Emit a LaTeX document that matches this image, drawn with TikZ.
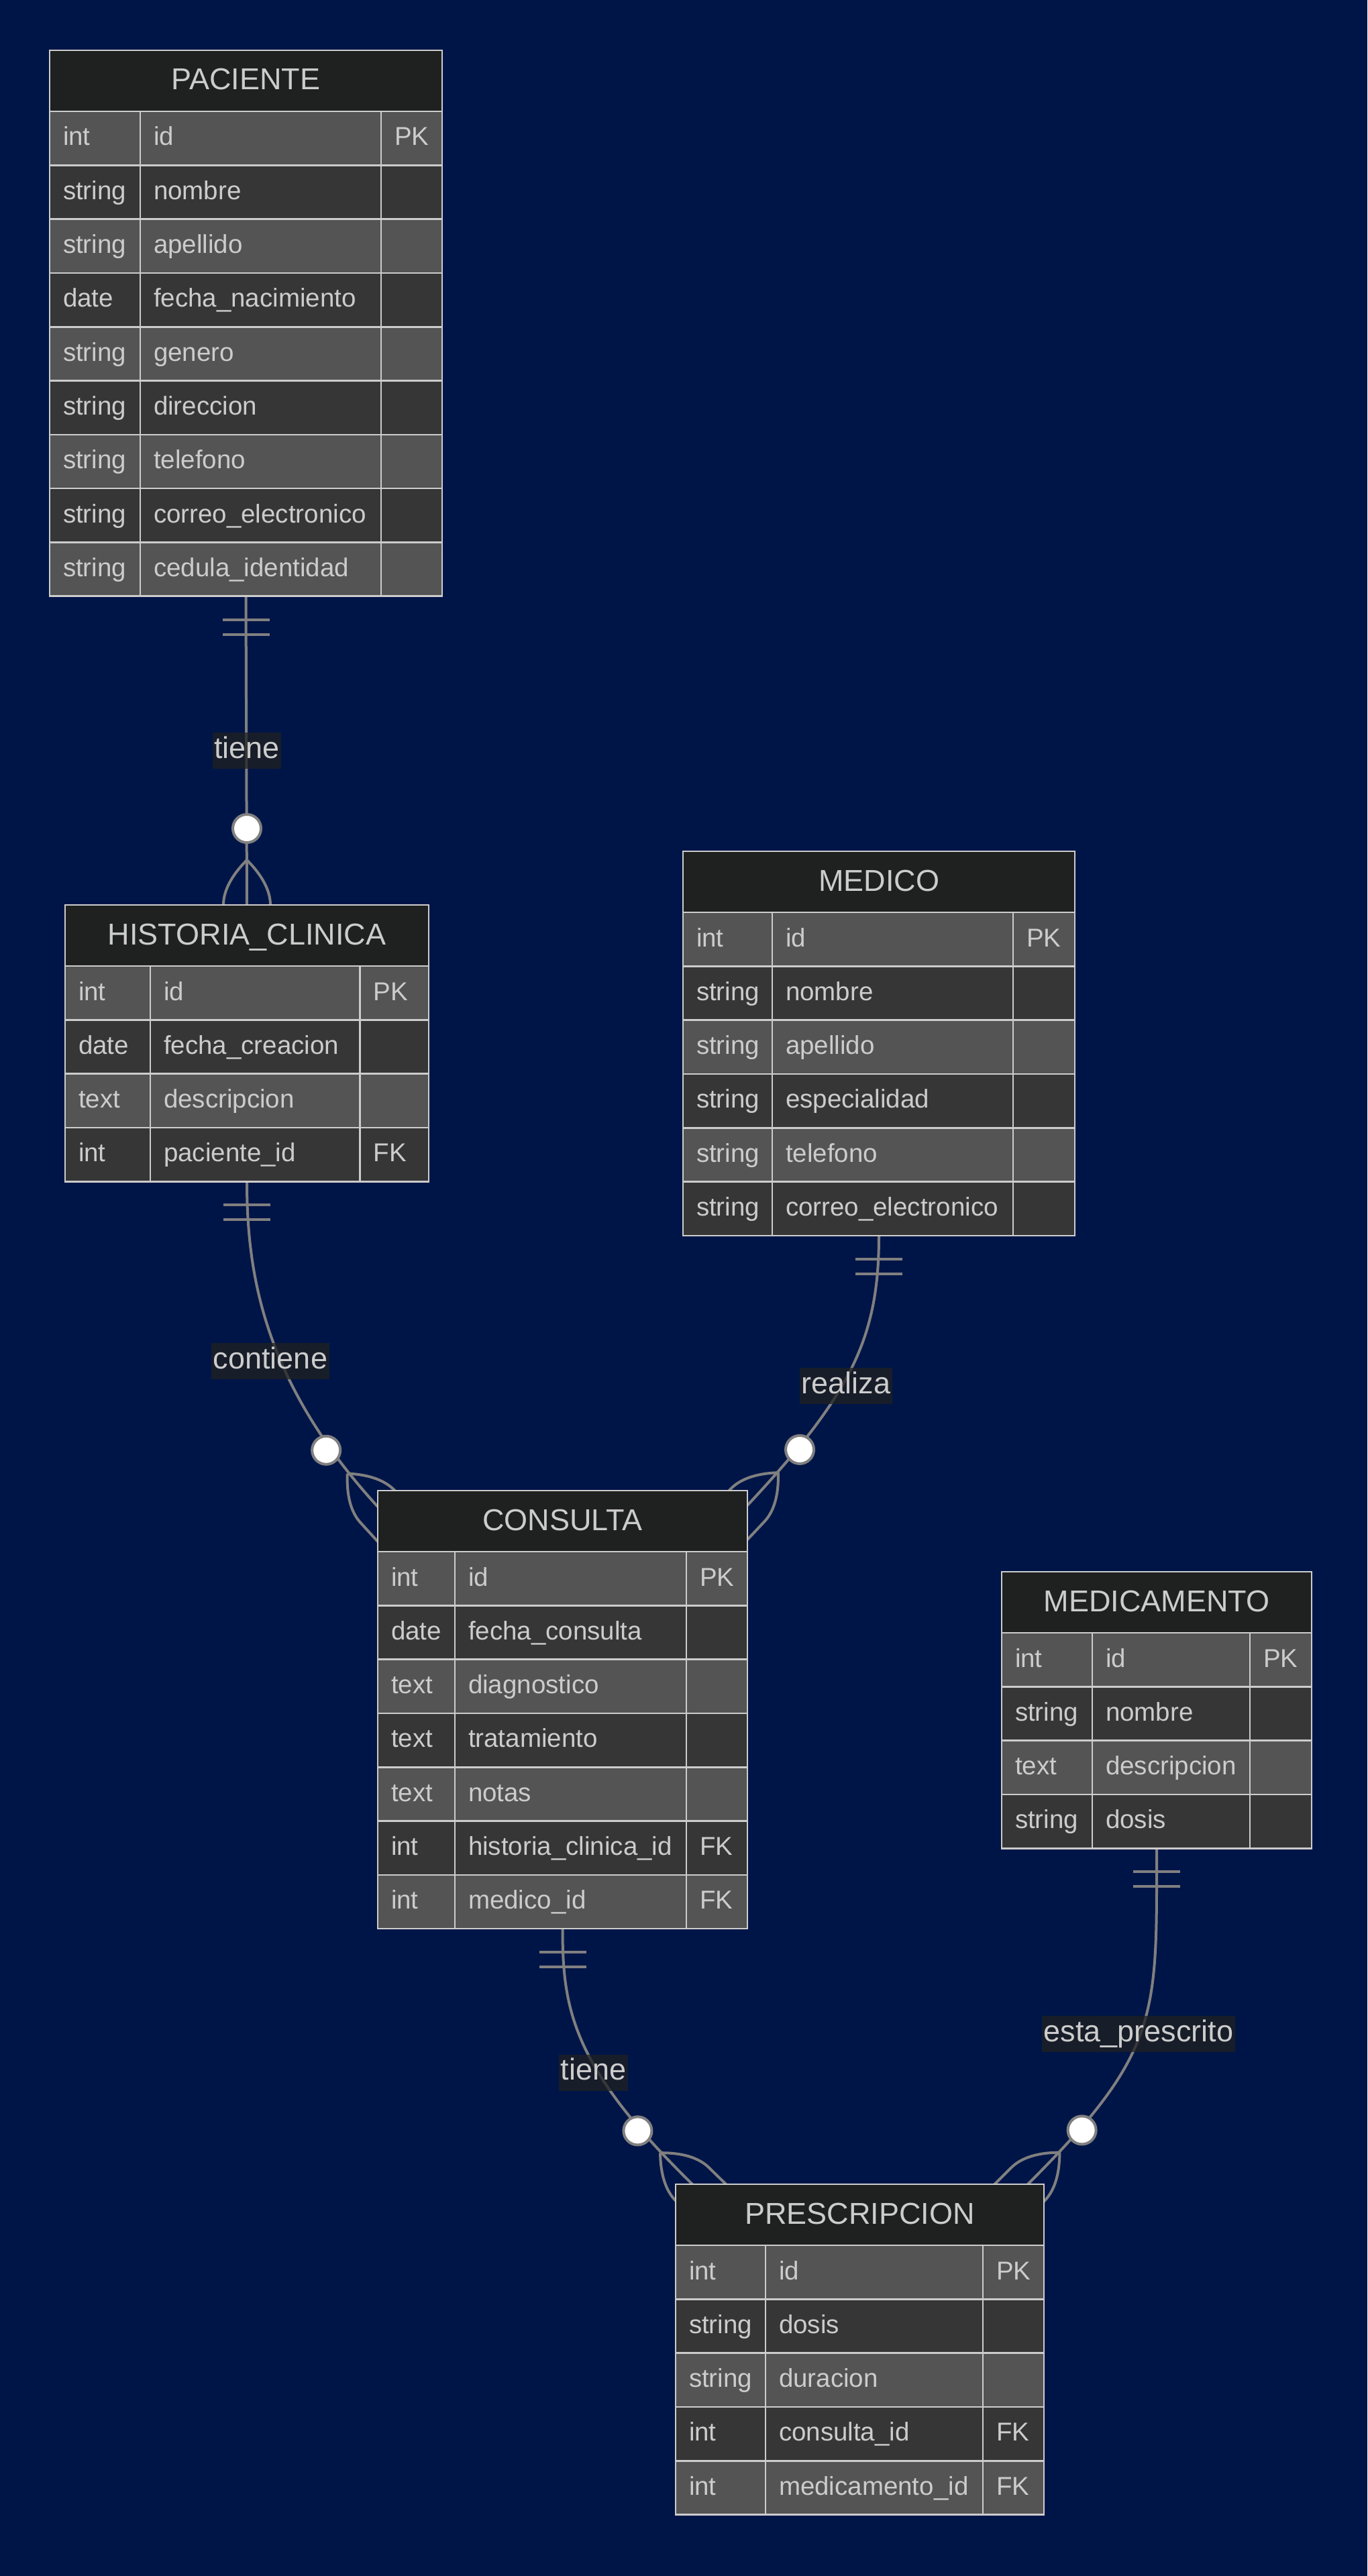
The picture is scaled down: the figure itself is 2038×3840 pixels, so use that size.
\documentclass[tikz,border=0pt]{standalone}
\usepackage{fontspec}
\setmainfont{Liberation Sans}
\usetikzlibrary{calc,positioning}

\definecolor{canvasblue}{RGB}{0,21,71}
\definecolor{titlebg}{RGB}{31,32,32}
\definecolor{rowodd}{RGB}{84,84,84}
\definecolor{roweven}{RGB}{54,54,54}
\definecolor{lgray}{RGB}{204,204,204}
\definecolor{linegray}{RGB}{128,128,128}

\pgfdeclarelayer{bg}
\pgfdeclarelayer{edges}
\pgfsetlayers{bg,edges,main}

\tikzset{
  enttitle/.style={draw=lgray, line width=2.6pt, fill=titlebg, text=lgray, inner sep=0pt, outer sep=0pt,
    minimum height=91pt, text height=59pt, text depth=32pt, font=\fontsize{45}{54}\selectfont},
  cell/.style={draw=lgray, line width=2.6pt, text=lgray, inner sep=0pt, outer sep=0pt,
    text height=51pt, text depth=29.3pt, font=\fontsize{38.5}{46}\selectfont},
  relline/.style={draw=linegray, line width=4pt},
  optcircle/.style={circle, draw=linegray, line width=4pt, fill=white, minimum size=42pt, inner sep=0pt},
  rellabel/.style={fill=titlebg, fill opacity=0.75, text opacity=1, text=lgray, inner xsep=2.5pt,
    inner ysep=0pt, text height=38pt, text depth=16pt, font=\fontsize{45}{54}\selectfont}
}

% entity: name, x, y, column widths, title, rows type/name/key
\newcommand{\ertable}[8]{%
  \node[enttitle, minimum width=#4+#5+#6, anchor=north west] (#1) at (#2,#3) {#7};
  \foreach \ty/\na/\ke [count=\i] in {#8}{%
    \ifodd\i\def\rowcol{rowodd}\else\def\rowcol{roweven}\fi
    \node[cell, fill=\rowcol, anchor=north west] (#1-\i-a)
      at ($(#1.south west)+(0,{(\i-1)*80.3})$) {\hbox to #4pt{\hskip20pt\ty\hfil}};
    \node[cell, fill=\rowcol, anchor=north west] (#1-\i-b) at (#1-\i-a.north east) {\hbox to #5pt{\hskip20pt\na\hfil}};
    \node[cell, fill=\rowcol, anchor=north west] (#1-\i-c) at (#1-\i-b.north east) {\hbox to #6pt{\hskip20pt\ke\hfil}};
  }%
}
% zero or many end: point, angle of the line
\newcommand{\zeromany}[2]{%
  \begin{scope}[shift={(#1)}, rotate=#2]
    \draw[relline] (-67,0) .. controls (-44,23) and (-21,35) .. (0,35) -- (40,35);
    \draw[relline] (-67,0) .. controls (-44,-23) and (-21,-35) .. (0,-35) -- (40,-35);
    \node[optcircle] at (-114,0) {};
  \end{scope}}
% exactly one start
\newcommand{\onlyone}[1]{%
  \draw[relline] ($(#1)+(-35,35)$) -- ++(70,0) ($(#1)+(-35,57)$) -- ++(70,0);}

\begin{document}
\begin{tikzpicture}[x=1pt,y=-1pt]
\begin{pgfonlayer}{bg}
  \fill[canvasblue] (0,0) rectangle (2038,3840);
\end{pgfonlayer}
\useasboundingbox (0,0) rectangle (2038,3840);

\ertable{pac}{74}{75}{135}{359}{91}{PACIENTE}{int/id/PK, string/nombre/{}, string/apellido/{},
  date/fecha\_nacimiento/{}, string/genero/{}, string/direccion/{}, string/telefono/{},
  string/correo\_electronico/{}, string/cedula\_identidad/{}}
\ertable{hc}{97}{1349}{127}{312.5}{102.5}{HISTORIA\_CLINICA}{int/id/PK, date/fecha\_creacion/{},
  text/descripcion/{}, int/paciente\_id/FK}
\ertable{med}{1018}{1269}{133}{359}{92}{MEDICO}{int/id/PK, string/nombre/{}, string/apellido/{},
  string/especialidad/{}, string/telefono/{}, string/correo\_electronico/{}}
\ertable{cons}{563}{2222}{115}{345}{91}{CONSULTA}{int/id/PK, date/fecha\_consulta/{},
  text/diagnostico/{}, text/tratamiento/{}, text/notas/{}, int/historia\_clinica\_id/FK, int/medico\_id/FK}
\ertable{medi}{1493}{2343}{135}{235}{92}{MEDICAMENTO}{int/id/PK, string/nombre/{},
  text/descripcion/{}, string/dosis/{}}
\ertable{pres}{1007}{3256}{134}{324}{91}{PRESCRIPCION}{int/id/PK, string/dosis/{},
  string/duracion/{}, int/consulta\_id/FK, int/medicamento\_id/FK}

\coordinate (s-pac) at (pac |- pac-9-b.south);
\coordinate (s-hc) at (hc |- hc-4-b.south);
\coordinate (s-med) at (med |- med-6-b.south);
\coordinate (s-cons) at (cons |- cons-7-b.south);
\coordinate (s-medi) at (medi |- medi-4-b.south);
\coordinate (e-hc) at (hc.north);
\coordinate (e-cons-l) at ([yshift=-24pt]cons.north west);
\coordinate (e-cons-r) at ([yshift=-22pt]cons.north east);
\coordinate (e-pres-l) at ([xshift=25pt]pres.north west);
\coordinate (e-pres-r) at ([xshift=-24pt]pres.north east);

\begin{pgfonlayer}{edges}
  \draw[relline] (s-pac) -- (e-hc);
  \draw[relline] (s-hc) .. controls +(0,140) and +(-169,-185) .. (e-cons-l);
  \draw[relline] (s-med) .. controls +(0,150) and +(157,-168) .. (e-cons-r);
  \draw[relline] (s-cons) .. controls +(0,120) and +(-179,-175) .. (e-pres-l);
  \draw[relline] (s-medi) .. controls +(0,250) and +(198,-198) .. (e-pres-r);
  \onlyone{s-pac}
  \onlyone{s-hc}
  \onlyone{s-med}
  \onlyone{s-cons}
  \onlyone{s-medi}
  \zeromany{e-hc}{-90}
  \zeromany{e-cons-l}{-47.6}
  \zeromany{e-cons-r}{-133.2}
  \zeromany{e-pres-l}{-44.3}
  \zeromany{e-pres-r}{-135}
\end{pgfonlayer}

\node[rellabel] (l-tiene) at (368,1119) {tiene};
\node[rellabel] (l-contiene) at (403,2029) {contiene};
\node[rellabel] (l-realiza) at (1261,2066) {realiza};
\node[rellabel] (l-tiene2) at (884.5,3089.5) {tiene};
\node[rellabel] (l-prescrito) at (1697,3032) {esta\_prescrito};
\end{tikzpicture}
\end{document}
